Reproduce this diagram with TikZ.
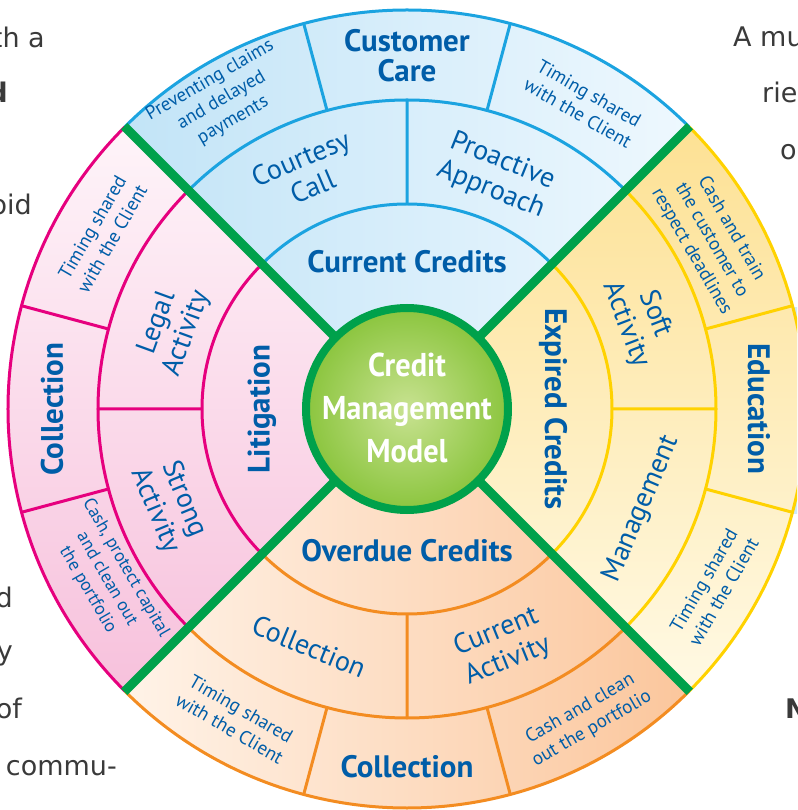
\documentclass[tikz,border=0pt]{standalone}
\usepackage{fontspec}
\setmainfont{PT Sans}
\newfontfamily\cmfont[FakeStretch=0.92]{PT Sans}
\newfontfamily\bgfont{DejaVu Sans}
\definecolor{txtblue}{RGB}{0,93,168}
\definecolor{cyanl}{RGB}{27,163,224}
\definecolor{bluea}{RGB}{194,228,247}
\definecolor{blueb}{RGB}{238,248,254}
\definecolor{yell}{RGB}{255,210,0}
\definecolor{yella}{RGB}{253,225,148}
\definecolor{yellb}{RGB}{255,249,228}
\definecolor{oran}{RGB}{243,140,33}
\definecolor{orana}{RGB}{255,243,232}
\definecolor{oranb}{RGB}{251,198,156}
\definecolor{mag}{RGB}{230,0,126}
\definecolor{maga}{RGB}{254,244,249}
\definecolor{magb}{RGB}{247,193,220}
\definecolor{sepgreen}{RGB}{0,161,75}
\definecolor{ctrA}{RGB}{200,226,145}
\definecolor{ctrB}{RGB}{139,197,62}
\definecolor{bgtext}{RGB}{58,58,58}
\definecolor{sliver}{RGB}{205,234,249}
\newcommand\qsector[3]{%
  \shade[#3] (0,0) -- (#1:399) arc[start angle=#1, delta angle=90, radius=399] -- cycle;
  \draw[#2, line width=3pt] (#1:205) arc[start angle=#1, delta angle=90, radius=205]
     (#1:309) arc[start angle=#1, delta angle=90, radius=309]
     (#1:399) arc[start angle=#1, delta angle=90, radius=399];
  \draw[#2, line width=3pt] (#1+45:205) -- (#1+45:309)
     (#1+30:309) -- (#1+30:399) (#1+60:309) -- (#1+60:399);
}
\tikzset{
  lbl/.style={text=txtblue, align=center, inner sep=0pt, font=\fontsize{28}{31}\selectfont},
  sml/.style={text=txtblue, align=center, inner sep=0pt, font=\fontsize{19}{23}\selectfont},
  bld/.style={text=txtblue, align=center, inner sep=0pt, font=\bfseries\fontsize{31}{30}\selectfont},
  ctr/.style={text=white, align=center, inner sep=0pt, font=\cmfont\bfseries\fontsize{33}{43}\selectfont},
  bgt/.style={text=bgtext, inner sep=0pt, font=\bgfont\fontsize{27}{27}\selectfont},
  bgb/.style={bgt, font=\bgfont\bfseries\fontsize{27}{27}\selectfont},
}
\begin{document}
\begin{tikzpicture}[x=1pt,y=1pt]
\useasboundingbox (-407,-401) rectangle (390,409);
\clip (-407,-401) rectangle (390,409);
% light blue sliver at right edge
\fill[sliver] (378,-105) rectangle (392,102);
% quadrants
\qsector{45}{cyanl}{left color=bluea, right color=blueb}
\qsector{-45}{yell}{top color=yella, bottom color=yellb}
\qsector{225}{oran}{left color=orana, right color=oranb}
\qsector{135}{mag}{top color=maga, bottom color=magb}
% green separators
\foreach \a in {45,135,225,315} \draw[sepgreen, line width=9pt] (0,0) -- (\a:400);
% center
\shade[inner color=ctrA, outer color=ctrB] (0,0) circle (101);
\draw[sepgreen, line width=8pt] (0,0) circle (101);
\node[ctr] (cmm) at (0,1) {Credit\\Management\\Model};
% top quadrant
\node[bld] (curcr) at (90:147) {Current Credits};
\node[lbl, rotate=23] (court) at (113:257) {Courtesy\\Call};
\node[lbl, rotate=-22] (proac) at (69:250) {Proactive\\Approach};
\node[sml, rotate=30] (prev) at (121:360) {Preventing claims\\and delayed\\payments};
\node[bld] (custc) at (90:353) {Customer\\Care};
\node[sml, rotate=-30] (tim1) at (60:353) {Timing shared\\with the Client};
% right quadrant
\node[bld, rotate=-90] (expcr) at (0:146) {Expired Credits};
\node[lbl, rotate=-69] (soft) at (21:250) {Soft\\Activity};
\node[lbl, rotate=67] (mgmt) at (-23:255) {Management};
\node[sml, rotate=-60] (cashtr) at (29:348) {Cash and train\\the customer to\\respect deadlines};
\node[bld, rotate=-90] (educ) at (0:352) {Education};
\node[sml, rotate=60] (tim2) at (-30:354) {Timing shared\\with the Client};
% bottom quadrant
\node[bld] (ovdcr) at (270:142) {Overdue Credits};
\node[lbl, rotate=-22.5] (coll1) at (247.6:257) {Collection};
\node[lbl, rotate=22] (curact) at (291.8:256) {Current\\Activity};
\node[sml, rotate=-30] (tim3) at (241:354) {Timing shared\\with the Client};
\node[bld] (coll2) at (270:358) {Collection};
\node[sml, rotate=30] (cashcl) at (300:358) {Cash and clean\\out the portfolio};
% left quadrant
\node[bld, rotate=90] (litig) at (180:145) {Litigation};
\node[lbl, rotate=70] (legal) at (161:248) {Legal\\Activity};
\node[lbl, rotate=-67.5] (strong) at (202:256) {Strong\\Activity};
\node[sml, rotate=60] (tim4) at (150:352) {Timing shared\\with the Client};
\node[bld, rotate=90] (coll3) at (180:355) {Collection};
\node[sml, rotate=-60, font=\fontsize{18}{22}\selectfont] (cashpr) at (209.5:345) {Cash, protect capital\\and clean out\\the portfolio};
% background page text fragments
\node[bgt, anchor=base east] (bg1) at (-362,361) {th a};
\node[bgb, anchor=base east] (bg2) at (-399,306) {d};
\node[bgt, anchor=base east] (bg3) at (-375,194) {oid};
\node[bgt, anchor=base east] (bg4) at (-394,-198) {d};
\node[bgt, anchor=base east] (bg5) at (-394,-251) {y};
\node[bgt, anchor=base east] (bg6) at (-385,-309) {of};
\node[bgt, anchor=base east] (bg7) at (-290,-366) {commu-};
\node[bgt, anchor=base west] (bg8) at (326,362) {A mu};
\node[bgt, anchor=base west] (bg9) at (355,306) {rie};
\node[bgt, anchor=base west] (bg10) at (373,249) {o};
\node[bgb, anchor=base west] (bg11) at (378,-309) {N};
\end{tikzpicture}
\end{document}
